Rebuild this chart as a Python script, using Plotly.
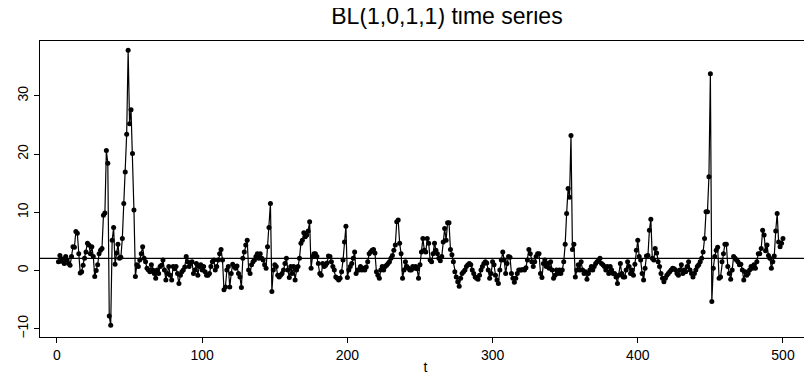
import numpy as np
import plotly.graph_objects as go

# BL(1,0,1,1) series, t = 1..500
seg_001_050 = [1.5, 2.6, 1.6, 2.0, 1.2, 2.4, 1.8, 1.2, 0.9, 2.4,
               4.1, 4.0, 6.7, 6.4, 2.9, -0.4, -0.2, 0.9, 2.1, 3.2,
               4.7, 4.4, 2.9, 4.1, 2.4, -1.0, 0.0, 1.0, 2.9, 3.5,
               3.8, 9.5, 9.9, 20.6, 18.4, -7.8, -9.4, 5.2, 7.4, 1.1,
               3.0, 4.5, 2.1, 2.3, 5.5, 11.5, 16.9, 23.4, 37.8, 25.2]
seg_051_100 = [27.6, 20.1, 10.4, -1.0, 1.0, 0.7, 1.8, 2.9, 4.1, 2.1,
               1.5, 0.4, 0.1, -0.2, 1.0, 0.1, -0.5, -1.3, 0.1, -0.5,
               0.7, 0.9, 1.8, 0.1, -1.6, -0.5, 0.7, -0.8, -1.6, 0.7,
               0.3, 0.7, -0.5, -2.2, -0.8, -0.2, 0.1, 0.6, 2.4, 1.5,
               0.7, 1.2, 1.5, -0.5, 0.1, 1.2, -0.8, 0.7, 1.0, 0.1]
seg_101_150 = [0.7, -0.2, -0.8, -0.8, -0.5, 0.7, 1.5, 1.8, 0.1, 0.7,
               1.8, 2.9, 3.6, 1.8, -3.3, -2.8, 0.1, 0.7, -2.8, -0.5,
               1.1, 0.7, 0.4, 0.8, -0.5, -1.1, -2.9, 2.1, 3.2, 4.4,
               5.2, 0.1, -0.5, 1.0, 1.5, 1.8, 2.4, 2.9, 2.1, 2.9,
               2.1, 1.8, 1.0, 0.4, 4.1, 7.4, 11.5, -3.6, 0.1, 1.0]
seg_151_200 = [0.7, -0.8, -1.1, -0.8, -0.5, 0.1, 1.2, 2.1, 0.1, -1.2,
               0.7, -0.5, 0.7, -1.6, 0.1, 0.7, 2.1, 4.7, 5.2, 6.5,
               5.8, 6.1, 6.8, 8.4, 0.4, 2.4, 2.9, 2.9, 2.4, 1.2,
               -0.5, -0.8, 1.2, 0.7, 0.9, 1.3, 2.5, 2.4, 1.5, 0.7,
               0.1, -1.1, -1.3, -1.6, -1.3, -0.2, 1.8, 4.9, 7.6, -1.2]
seg_201_250 = [0.1, 0.7, 1.2, 2.1, 3.2, -0.5, 0.1, 0.1, 0.7, 0.1,
               0.4, 0.1, 0.6, 1.5, 2.9, 3.2, 3.5, 3.6, 3.0, -0.2,
               -0.8, -1.3, 0.1, 0.7, 0.1, 0.7, 0.9, 1.2, 1.5, 2.1,
               2.6, 3.5, 4.4, 8.4, 8.7, 4.7, 2.9, -1.3, 0.1, 1.5,
               0.7, 0.4, 0.1, 0.1, 0.7, 0.4, 0.7, 0.3, -1.3, 1.0]
seg_251_300 = [3.2, 5.5, 3.5, 3.2, 5.5, 4.7, 1.8, 1.5, 2.9, 4.7,
               3.5, 2.9, 2.1, 1.7, 2.4, 4.9, 7.2, 5.2, 8.2, 8.2,
               3.6, 2.7, 1.5, -0.2, -1.1, -1.9, -2.7, -1.3, -0.5, -0.2,
               0.1, 0.7, 1.0, 1.2, 1.0, 0.1, -0.5, -1.1, -1.3, -1.5,
               -0.8, 0.1, 0.7, 1.2, 1.5, 1.3, 0.1, -1.3, -0.5, 1.5]
seg_301_350 = [1.0, -0.8, -1.6, -2.2, 0.1, 1.8, 3.2, 1.8, -0.5, 1.2,
               2.4, 2.3, -0.5, -1.3, -2.0, -1.3, -0.5, 0.1, 0.1, 0.1,
               0.2, 0.1, 0.5, 1.8, 3.6, 2.9, 1.5, 0.7, 1.5, 2.4,
               2.9, 2.9, -0.5, -1.2, 1.2, 1.8, 0.7, 1.2, 0.4, 1.5,
               0.1, -1.3, -0.8, 0.1, -0.5, 0.1, -0.5, 0.1, 1.5, 4.5]
seg_351_400 = [9.8, 14.1, 12.6, 23.2, 3.6, 4.5, -1.1, 0.1, 1.0, 0.1,
               1.5, 0.1, -0.5, -0.2, -1.5, -0.5, 0.1, 0.7, 0.1, 0.7,
               1.2, 1.5, 1.8, 2.1, 1.2, 1.0, 0.7, 0.1, 0.7, -0.5,
               0.7, 0.1, -0.5, -0.5, -1.1, -2.2, -0.8, 1.2, -0.5, -1.1,
               -1.1, 0.1, 1.5, 0.7, -0.5, 0.1, -0.8, 1.1, 3.5, 5.2]
seg_401_450 = [2.4, 1.8, -0.5, -1.6, 0.4, 2.5, 2.6, 6.9, 8.8, 2.1,
               1.8, 3.8, 3.0, 1.5, 0.7, -0.5, -1.3, -1.9, -1.3, -0.8,
               -0.5, -0.2, 0.1, 0.4, 0.3, 0.1, -0.5, -0.8, 0.1, 1.0,
               -0.5, 0.1, -0.2, 0.7, 1.5, 0.1, -0.5, -1.1, -0.5, 0.1,
               0.7, 1.0, 1.5, 2.1, 3.2, 5.5, 10.1, 10.1, 16.1, 33.8]
seg_451_500 = [-5.3, 0.4, 2.4, 3.5, 4.0, -1.3, -1.1, 1.5, 2.9, 4.5,
               4.5, 0.7, -0.5, -1.5, 0.1, 2.4, 2.1, 1.8, 1.5, 1.0,
               1.1, 0.1, -1.6, -0.2, -0.8, -0.5, 0.1, 0.7, 0.4, 1.0,
               0.4, 1.5, 2.9, 2.9, 3.8, 6.9, 6.1, 3.4, 4.4, 2.6,
               2.1, 0.4, 1.5, 2.5, 6.8, 9.8, 4.9, 4.1, 4.7, 5.5]

series = (seg_001_050 + seg_051_100 + seg_101_150 + seg_151_200 + seg_201_250
          + seg_251_300 + seg_301_350 + seg_351_400 + seg_401_450 + seg_451_500)
t = np.arange(1, len(series) + 1)

level = 2.1  # horizontal reference line (series mean)
x_ticks = [0, 100, 200, 300, 400, 500]
y_ticks = [-10, 0, 10, 20, 30]

fig = go.Figure()
fig.add_trace(go.Scatter(
    x=t, y=series, mode="lines+markers",
    line=dict(color="black", width=1.2),
    marker=dict(color="black", size=5),
    showlegend=False
))

# mean line across the whole panel
fig.add_shape(type="line", xref="paper", yref="y",
              x0=0, x1=1, y0=level, y1=level,
              line=dict(color="black", width=1.2))

# page body has an 8px margin, so the figure is sized 8px smaller
fig.update_layout(
    width=804, height=371,
    margin=dict(l=32, r=1, t=33, b=42),
    paper_bgcolor="white", plot_bgcolor="white",
    font=dict(family="Liberation Sans, Arial, sans-serif", color="black", size=14),
    title=dict(text="BL(1,0,1,1) time series", x=0.546, xanchor="center",
               y=0.999, yanchor="top", font=dict(size=23)),
)
fig.update_xaxes(
    range=[-11.7, 519.3], tickvals=x_ticks, ticks="outside", ticklen=5,
    showgrid=False, zeroline=False, showline=True, linecolor="black",
    linewidth=1, mirror=True, tickcolor="black", automargin=False,
    title=dict(text="t", standoff=0, font=dict(size=14))
)
fig.update_yaxes(
    range=[-11.4, 39.4], tickvals=y_ticks, ticks="outside", ticklen=5,
    tickangle=-90, showgrid=False, zeroline=False, showline=True,
    linecolor="black", linewidth=1, mirror=True, tickcolor="black",
    automargin=False
)

fig.write_html("out.html")
